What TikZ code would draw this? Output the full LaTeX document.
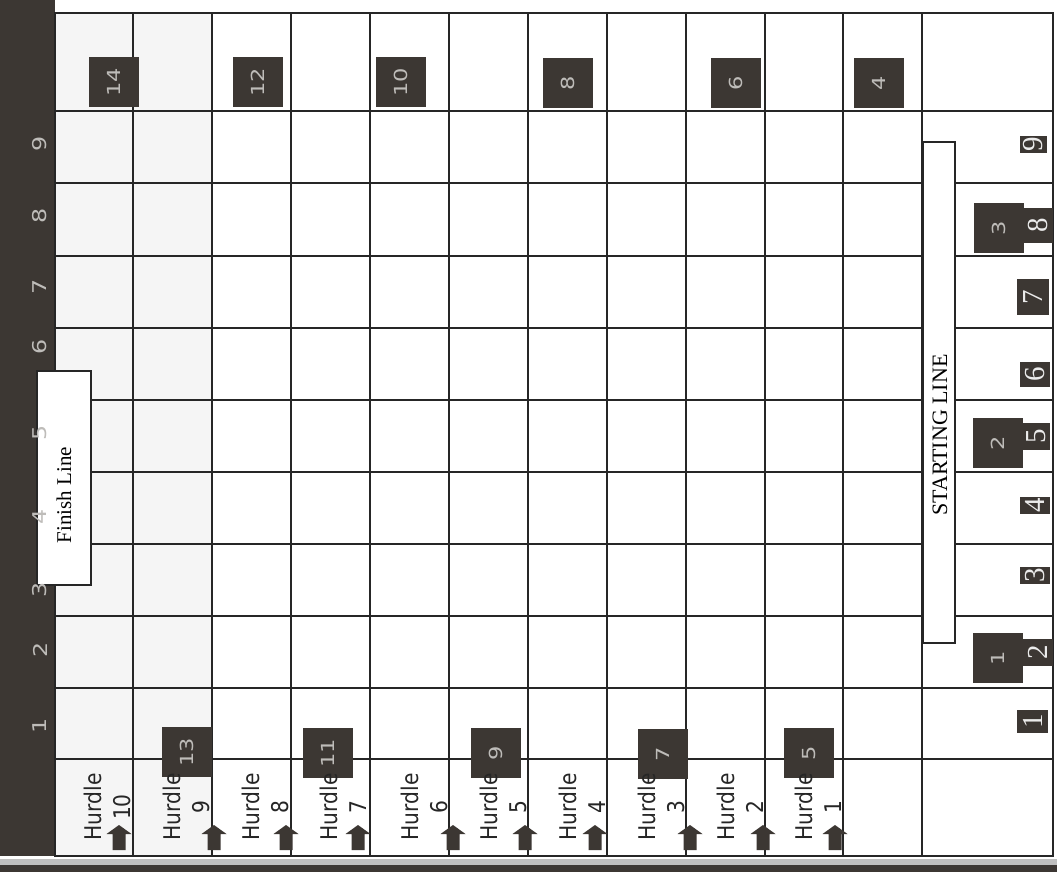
\documentclass[tikz,border=0pt]{standalone}
\usepackage{fontspec}
\usetikzlibrary{positioning}
\newfontfamily\hurdlefont[FakeStretch=0.88]{DejaVu Sans}
\newfontfamily\thinfont[FakeStretch=1.25]{DejaVu Sans}
\newfontfamily\boardserif{Liberation Serif}
\definecolor{boarddark}{RGB}{60,55,51}
\definecolor{toklight}{RGB}{190,188,185}
\tikzset{gridline/.style={draw=black!85,line width=1.3pt}}
\tikzset{bigtok/.style={fill=boarddark,minimum size=50pt,inner sep=0pt,rotate=90,text=toklight,font=\thinfont\fontsize{18}{18}\selectfont}}
\tikzset{smalltok/.style={fill=boarddark,inner sep=0pt,rotate=90,text=white!92!black,font=\boardserif\fontsize{29}{29}\selectfont}}
\tikzset{rownum/.style={rotate=90,text=toklight,font=\thinfont\fontsize{19}{19}\selectfont}}
\tikzset{hurdletxt/.style={rotate=90,align=center,text=black!85,font=\hurdlefont\fontsize{23}{29}\selectfont}}
\tikzset{linebox/.style={fill=white,draw=black!85,line width=1.3pt}}
\def\harrow#1{\fill[boarddark] (#1-6.5,850) -- (#1-6.5,834) -- (#1-12.5,834) -- (#1,825) -- (#1+12.5,834) -- (#1+6.5,834) -- (#1+6.5,850) -- cycle;}

\begin{document}
\begin{tikzpicture}[x=1pt,y=-1pt]
	\useasboundingbox (0,0) rectangle (1057,872);
	\fill[white] (0,0) rectangle (1057,872);
	\fill[black!4] (55,13) rectangle (212,856);
	\fill[boarddark] (0,0) rectangle (55,856);
	\fill[black!25] (0,859) rectangle (1057,865);
	\fill[boarddark] (0,865) rectangle (1057,872);

	% board
	\draw[gridline] (55,13) rectangle (1053,856);
	\foreach \gx in {133,212,291,370,449,528,607,686,765,843,922}
		\draw[gridline] (\gx,13) -- (\gx,856);
	\foreach \gy in {111,183,256,328,400,472,544,616,688,759}
		\draw[gridline] (55,\gy) -- (1053,\gy);

	\draw[linebox] (37,371) rectangle (91,585);
	\node[rotate=90,font=\boardserif\fontsize{21}{21}\selectfont] (finish) at (64,495) {Finish Line};
	\draw[linebox] (923,142) rectangle (955,643);
	\node[rotate=90,font=\boardserif\fontsize{22}{22}\selectfont] (start) at (940,435) {STARTING LINE};

	% row numbers
	\node[rownum] (r9) at (40,144) {9};
	\node[rownum] (r8) at (40,216) {8};
	\node[rownum] (r7) at (40,287) {7};
	\node[rownum] (r6) at (40,347) {6};
	\node[rownum] (r5) at (40,433) {5};
	\node[rownum] (r4) at (40,517) {4};
	\node[rownum] (r3) at (40,590) {3};
	\node[rownum] (r2) at (40,650) {2};
	\node[rownum] (r1) at (40,726) {1};

	% lane tokens
	\node[smalltok,minimum width=17,minimum height=27] (s9) at (1033.5,144.5) {9};
	\node[smalltok,minimum width=35,minimum height=30] (s8) at (1038,225.5) {8};
	\node[smalltok,minimum width=36,minimum height=32] (s7) at (1033,297) {7};
	\node[smalltok,minimum width=25,minimum height=30] (s6) at (1035,374.5) {6};
	\node[smalltok,minimum width=27,minimum height=27] (s5) at (1036.5,436) {5};
	\node[smalltok,minimum width=17,minimum height=30] (s4) at (1035,505) {4};
	\node[smalltok,minimum width=17,minimum height=30] (s3) at (1035,575) {3};
	\node[smalltok,minimum width=27,minimum height=30] (s2) at (1038,652) {2};
	\node[smalltok,minimum width=23,minimum height=31] (s1) at (1032.5,721.5) {1};

	% squares
	\node[bigtok] (t1) at (998,658) {1};
	\node[bigtok] (t2) at (998,443) {2};
	\node[bigtok] (t3) at (999,228) {3};
	\node[bigtok] (t4) at (879,83) {4};
	\node[bigtok] (t5) at (809,753) {5};
	\node[bigtok] (t6) at (736,83) {6};
	\node[bigtok] (t7) at (663,754) {7};
	\node[bigtok] (t8) at (568,83) {8};
	\node[bigtok] (t9) at (496,753) {9};
	\node[bigtok] (t10) at (401,82) {10};
	\node[bigtok] (t11) at (328,753) {11};
	\node[bigtok] (t12) at (258,82) {12};
	\node[bigtok] (t13) at (187,752) {13};
	\node[bigtok] (t14) at (114,82) {14};

	% hurdles
	\node[hurdletxt] (h10) at (107.5,807) {Hurdle\\10};
	\node[hurdletxt] (h9) at (186.5,807) {Hurdle\\9};
	\node[hurdletxt] (h8) at (265,807) {Hurdle\\8};
	\node[hurdletxt] (h7) at (343.5,807) {Hurdle\\7};
	\node[hurdletxt] (h6) at (424,807) {Hurdle\\6};
	\node[hurdletxt] (h5) at (503,807) {Hurdle\\5};
	\node[hurdletxt] (h4) at (582.5,807) {Hurdle\\4};
	\node[hurdletxt] (h3) at (661,807) {Hurdle\\3};
	\node[hurdletxt] (h2) at (740,807) {Hurdle\\2};
	\node[hurdletxt] (h1) at (818.5,807) {Hurdle\\1};
	\harrow{119} \harrow{214} \harrow{286} \harrow{358} \harrow{453}
	\harrow{525} \harrow{595} \harrow{690} \harrow{763} \harrow{835}
\end{tikzpicture}
\end{document}
